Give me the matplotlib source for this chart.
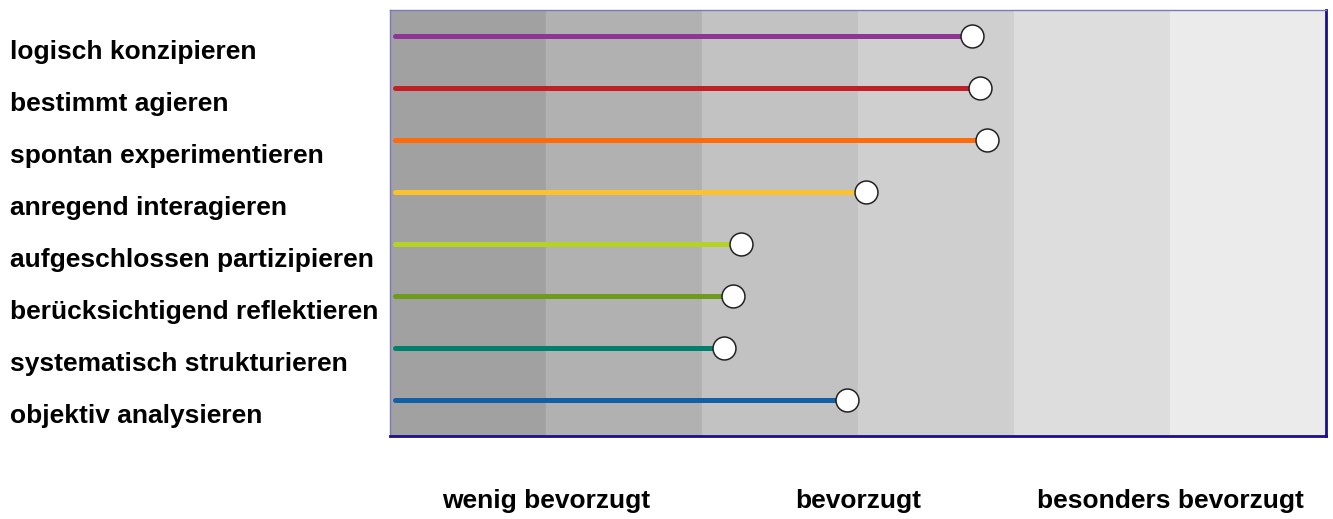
import matplotlib
matplotlib.use("Agg")
import matplotlib.pyplot as plt
from matplotlib.transforms import blended_transform_factory

labels = ["logisch konzipieren", "bestimmt agieren", "spontan experimentieren",
          "anregend interagieren", "aufgeschlossen partizipieren",
          "berücksichtigend reflektieren", "systematisch strukturieren",
          "objektiv analysieren"]
values = [3.73, 3.78, 3.83, 3.05, 2.25, 2.20, 2.14, 2.93]
colors = ["#8e3596", "#c01f26", "#ff6a0a", "#fbc12e", "#b6d325",
          "#6e9b1c", "#007f6e", "#135fa6"]
band_colors = ["#a1a1a1", "#b1b1b1", "#c2c2c2", "#cfcfcf", "#dddddd", "#ebebeb"]
scale_labels = ["wenig bevorzugt", "bevorzugt", "besonders bevorzugt"]
scale_pos = [1, 3, 5]
start = 0.03

plt.rcParams['font.family'] = ['Liberation Sans', 'DejaVu Sans']

fig = plt.figure(figsize=(13.33, 5.19), dpi=100)
ax = fig.add_axes([390 / 1333, 83 / 519, 936 / 1333, 426 / 519])

# background bands, edges in the same colour so no gaps show
for i, c in enumerate(band_colors):
    ax.axvspan(i, i + 1, fc=c, ec=c, lw=1, zorder=0)

for i, (v, c) in enumerate(zip(values, colors)):
    ax.plot([start, v], [i, i], color=c, lw=3.6, solid_capstyle='round', zorder=2)
    ax.plot(v, i, 'o', ms=16.5, mfc='white', mec='#222222', mew=1.1, zorder=3)

ax.set_xlim(0, 6)
ax.set_ylim(7 + 36 / 52, -26 / 52)
ax.set_xticks([])
ax.set_yticks([])

for s in ['top', 'left']:
    ax.spines[s].set_color('#7b78c0')
    ax.spines[s].set_linewidth(1.0)
for s in ['bottom', 'right']:
    ax.spines[s].set_color('#1c0e8c')
    ax.spines[s].set_linewidth(2.0)

trans = blended_transform_factory(fig.transFigure, ax.transData)
for i, lab in enumerate(labels):
    ax.text(10 / 1333, i + 0.3, lab, transform=trans, ha='left', va='center',
            fontsize=19, fontweight='bold', clip_on=False)

trans2 = blended_transform_factory(ax.transData, fig.transFigure)
for p, lab in zip(scale_pos, scale_labels):
    ax.text(p, 1 - 501 / 519, lab, transform=trans2, ha='center', va='center',
            fontsize=19, fontweight='bold', clip_on=False)

fig.savefig("out.png", dpi=100)
